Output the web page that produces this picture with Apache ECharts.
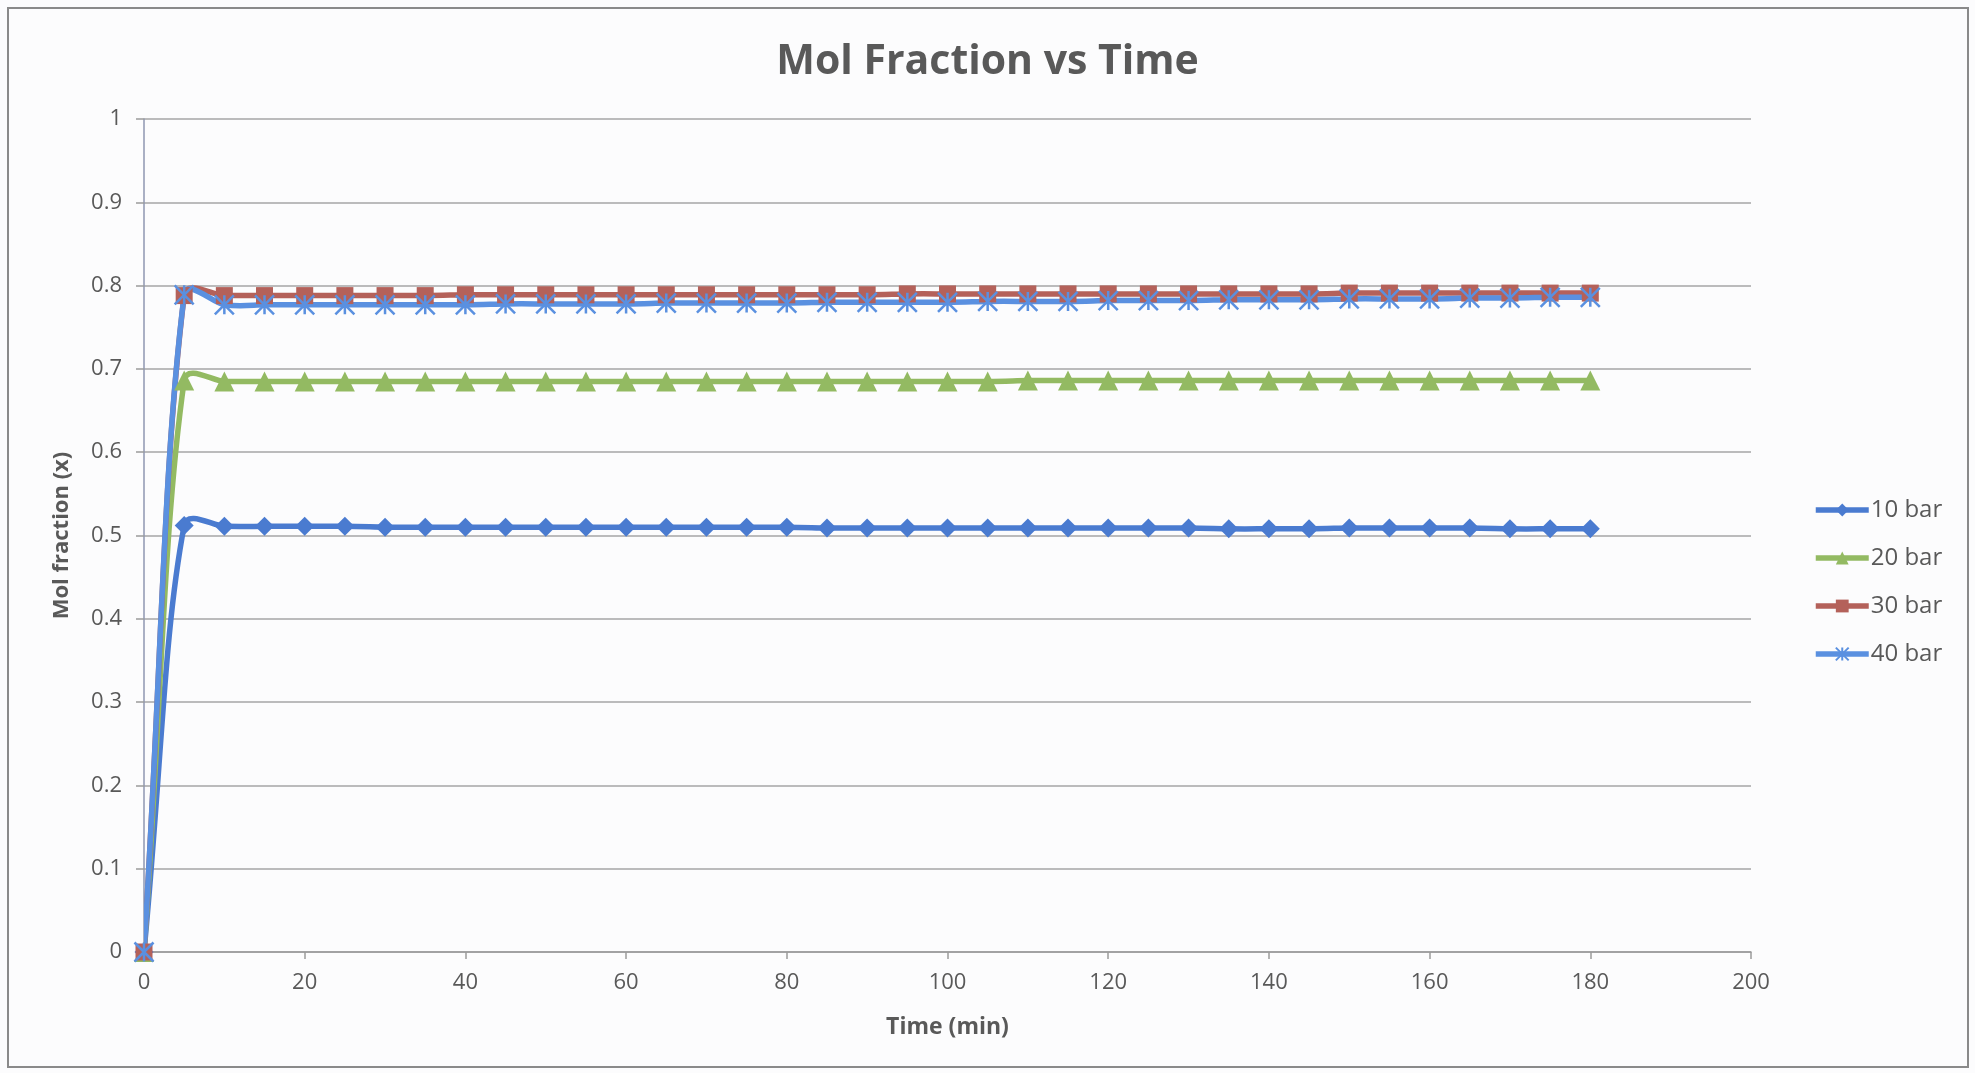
<!DOCTYPE html>
<html>
<head>
<meta charset="utf-8">
<title>Mol Fraction vs Time</title>
<script src="https://cdn.jsdelivr.net/npm/echarts@6/dist/echarts.min.js"></script>
<style>
  html, body { margin: 0; padding: 0; background: #ffffff; }
  #chart { width: 1975px; height: 1073px; }
</style>
</head>
<body>
<div id="chart"></div>
<script>
// Sampling times (min)
const times = [0, 5, 10, 15, 20, 25, 30, 35, 40, 45, 50, 55, 60, 65, 70, 75, 80, 85, 90,
  95, 100, 105, 110, 115, 120, 125, 130, 135, 140, 145, 150, 155, 160, 165, 170, 175, 180];

// Mol fraction at each pressure
const bar10 = [0, 0.512, 0.511, 0.511, 0.511, 0.511, 0.510, 0.510, 0.510, 0.510, 0.510, 0.510,
  0.510, 0.510, 0.510, 0.510, 0.510, 0.509, 0.509, 0.509, 0.509, 0.509, 0.509, 0.509, 0.509,
  0.509, 0.509, 0.508, 0.508, 0.508, 0.509, 0.509, 0.509, 0.509, 0.508, 0.508, 0.508];
const bar20 = [0, 0.686, 0.685, 0.685, 0.685, 0.685, 0.685, 0.685, 0.685, 0.685, 0.685, 0.685,
  0.685, 0.685, 0.685, 0.685, 0.685, 0.685, 0.685, 0.685, 0.685, 0.685, 0.686, 0.686, 0.686,
  0.686, 0.686, 0.686, 0.686, 0.686, 0.686, 0.686, 0.686, 0.686, 0.686, 0.686, 0.686];
const bar30 = [0, 0.788, 0.788, 0.788, 0.788, 0.788, 0.788, 0.788, 0.789, 0.789, 0.789, 0.789,
  0.789, 0.789, 0.789, 0.789, 0.789, 0.789, 0.789, 0.790, 0.790, 0.790, 0.790, 0.790, 0.790,
  0.790, 0.790, 0.790, 0.790, 0.790, 0.791, 0.791, 0.791, 0.791, 0.791, 0.791, 0.791];
const bar40 = [0, 0.789, 0.777, 0.777, 0.777, 0.777, 0.777, 0.777, 0.777, 0.778, 0.778, 0.778,
  0.778, 0.779, 0.779, 0.779, 0.779, 0.780, 0.780, 0.780, 0.780, 0.781, 0.781, 0.781, 0.782,
  0.782, 0.782, 0.783, 0.783, 0.783, 0.784, 0.784, 0.784, 0.785, 0.785, 0.786, 0.786];

const seriesNames = ['10 bar', '20 bar', '30 bar', '40 bar'];
const yTicks = [0, 0.1, 0.2, 0.3, 0.4, 0.5, 0.6, 0.7, 0.8, 0.9, 1];

const FONT = '"Open Sans", "Liberation Sans", sans-serif';
const TEXT = '#595959';
const LINE_W = 5.5;
const ASTERISK = 'path://M0,0 L10,10 M10,0 L0,10 M5,0 L5,10';

function pairs(values) {
  return times.map((t, i) => [t, values[i]]);
}

// Bezier segments through pixel points; tangents follow the neighbouring chord,
// split by the lengths of the adjoining segments. The leading arm is kept shorter
// so that steep rises stay close to straight.
function smoothSegments(pts, sIn, sOut) {
  const n = pts.length;
  const cin = [], cout = [];
  for (let i = 0; i < n; i++) {
    const p = pts[i];
    const a = pts[Math.max(i - 1, 0)];
    const b = pts[Math.min(i + 1, n - 1)];
    const vx = b[0] - a[0], vy = b[1] - a[1];
    const d0 = Math.hypot(p[0] - a[0], p[1] - a[1]);
    const d1 = Math.hypot(b[0] - p[0], b[1] - p[1]);
    const sum = (d0 + d1) || 1;
    cin.push([p[0] - vx * sIn * d0 / sum, p[1] - vy * sIn * d0 / sum]);
    cout.push([p[0] + vx * sOut * d1 / sum, p[1] + vy * sOut * d1 / sum]);
  }
  const segs = [];
  for (let i = 0; i < n - 1; i++) {
    segs.push({
      x1: pts[i][0], y1: pts[i][1],
      cpx1: cout[i][0], cpy1: cout[i][1],
      cpx2: cin[i + 1][0], cpy2: cin[i + 1][1],
      x2: pts[i + 1][0], y2: pts[i + 1][1]
    });
  }
  return segs;
}

// Smoothed connecting curve for one pressure
function curveSeries(values, color) {
  return {
    type: 'custom',
    data: pairs(values),
    encode: { x: 0, y: 1 },
    silent: true,
    clip: true,
    z: 2,
    renderItem: function (params, api) {
      if (params.dataIndex !== 0) return;
      const pts = times.map((t, i) => api.coord([t, values[i]]));
      return {
        type: 'group',
        children: smoothSegments(pts, 0.28, 0.45).map(seg => ({
          type: 'bezierCurve',
          shape: seg,
          style: { fill: null, stroke: color, lineWidth: LINE_W, lineCap: 'round' }
        }))
      };
    }
  };
}

// Markers (and legend entry) for one pressure
function markerSeries(name, values, color, symbol, size, extraItem) {
  return {
    name: name,
    type: 'line',
    data: pairs(values),
    symbol: symbol,
    symbolSize: size,
    showAllSymbol: true,
    lineStyle: { color: color, width: LINE_W, opacity: 0 },
    itemStyle: Object.assign({ color: color }, extraItem || {}),
    emphasis: { disabled: true },
    z: 3
  };
}

const colors = ['#4a7bd0', '#93ba62', '#b4615a', '#5a90e0'];

const chart = echarts.init(document.getElementById('chart'), null, { renderer: 'canvas' });

chart.setOption({
  animation: false,
  backgroundColor: '#fcfcfd',
  title: {
    text: 'Mol Fraction vs Time',
    left: 'center',
    top: 37,
    textStyle: { fontFamily: FONT, fontSize: 41, fontWeight: 'bold', color: TEXT }
  },
  graphic: [{
    type: 'rect',
    shape: { x: 8, y: 8, width: 1960, height: 1059 },
    style: { fill: 'none', stroke: '#8a8a8a', lineWidth: 2 },
    silent: true
  }],
  legend: {
    orient: 'vertical',
    left: 1813,
    top: 498,
    padding: 0,
    itemWidth: 53,
    itemHeight: 16,
    itemGap: 24,
    data: seriesNames,
    lineStyle: { opacity: 1, width: LINE_W },
    textStyle: { fontFamily: FONT, fontSize: 24, color: TEXT, padding: [0, 0, 0, -3] }
  },
  grid: { left: 144, right: 224, top: 119, bottom: 121, containLabel: false },
  xAxis: {
    type: 'value',
    min: 0,
    max: 200,
    interval: 20,
    name: 'Time (min)',
    nameLocation: 'middle',
    nameGap: 64,
    nameTextStyle: { fontFamily: FONT, fontSize: 23, fontWeight: 'bold', color: TEXT },
    axisLine: { show: true, lineStyle: { color: '#9a9a9a', width: 1.5 } },
    axisTick: { show: true, length: 7, lineStyle: { color: '#9a9a9a', width: 1.5 } },
    axisLabel: { margin: 20, fontFamily: FONT, fontSize: 22, color: TEXT },
    splitLine: { show: false }
  },
  yAxis: {
    type: 'value',
    min: 0,
    max: 1,
    interval: 0.1,
    name: 'Mol fraction (x)',
    nameLocation: 'middle',
    nameGap: 71,
    nameTextStyle: { fontFamily: FONT, fontSize: 22, fontWeight: 'bold', color: TEXT },
    axisLine: { show: true, lineStyle: { color: '#8f97b0', width: 1.5 } },
    axisTick: { show: true, length: 8, lineStyle: { color: '#9a9a9a', width: 1.5 } },
    axisLabel: {
      margin: 22, fontFamily: FONT, fontSize: 22, color: TEXT,
      formatter: v => {
        const hit = yTicks.find(t => Math.abs(t - v) < 1e-9);
        return String(hit !== undefined ? hit : v);
      }
    },
    splitLine: { show: true, lineStyle: { color: '#a6a6a6', width: 1.5 } }
  },
  series: [
    markerSeries(seriesNames[0], bar10, colors[0], 'diamond', 19),
    markerSeries(seriesNames[1], bar20, colors[1], 'triangle', 20),
    markerSeries(seriesNames[2], bar30, colors[2], 'rect', 17),
    markerSeries(seriesNames[3], bar40, colors[3], ASTERISK, 19,
      { color: 'transparent', borderColor: colors[3], borderWidth: 2.5 }),
    curveSeries(bar10, colors[0]),
    curveSeries(bar20, colors[1]),
    curveSeries(bar30, colors[2]),
    curveSeries(bar40, colors[3])
  ]
});
</script>
</body>
</html>
